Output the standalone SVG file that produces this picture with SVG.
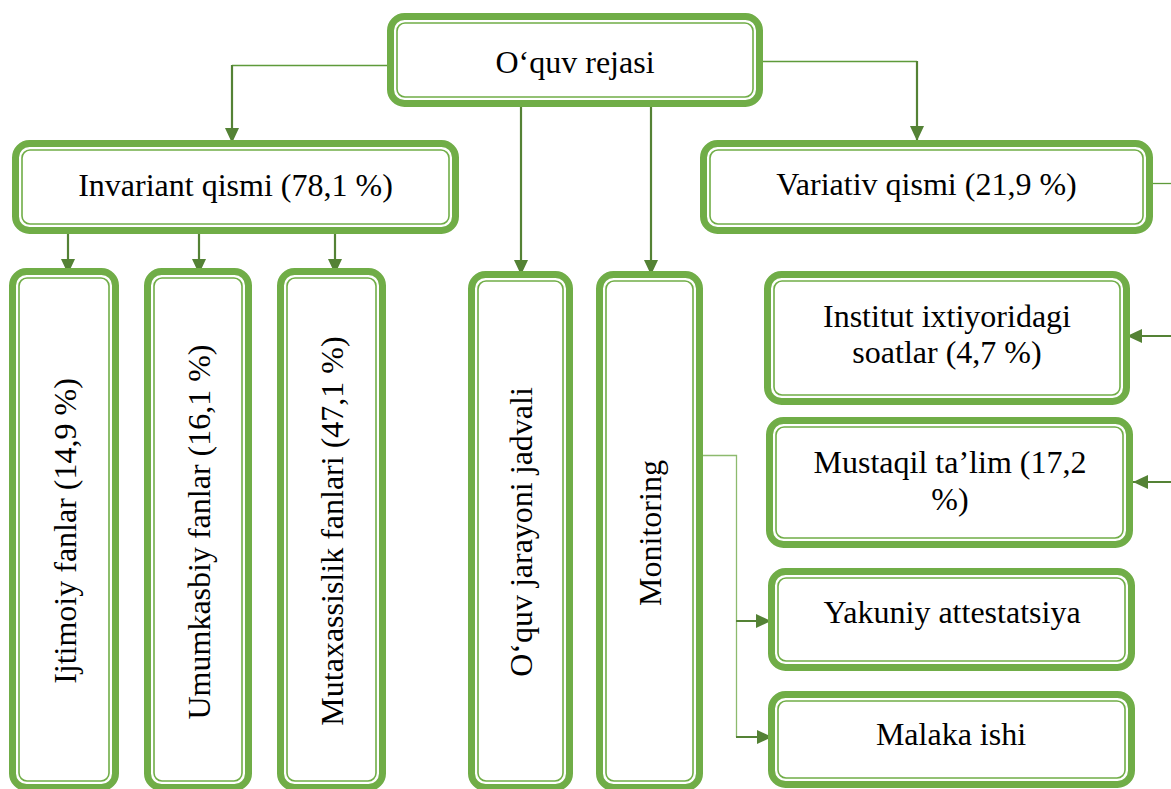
<svg xmlns="http://www.w3.org/2000/svg" width="1171" height="789" viewBox="0 0 1171 789">
<style>
.o{fill:#fff;stroke:#70AD47;stroke-width:7}
.i{fill:none;stroke:#70AD47;stroke-width:1.6}
.t{font-family:"Liberation Serif","Times New Roman",serif;font-size:32px;fill:#000;text-anchor:middle}
.a{fill:none;stroke:#548235;stroke-width:2.2}
.th{fill:none;stroke:#5E9A3A;stroke-width:1.3}
.lt{fill:none;stroke:#8DBA6E;stroke-width:1.3}
</style>
<defs>
<marker id="ah" viewBox="0 0 15 14" refX="15" refY="7" markerWidth="15" markerHeight="14" markerUnits="userSpaceOnUse" orient="auto">
<path d="M0,0 L15,7 L0,14 z" fill="#548235"/>
</marker>
</defs>
<rect width="1171" height="789" fill="#fff"/>
<g id="connectors">
<path class="th" d="M390,65.5 H232"/>
<path class="a" d="M232,65 V143" marker-end="url(#ah)"/>
<path class="th" d="M760,61.5 H917"/>
<path class="a" d="M917,61 V141" marker-end="url(#ah)"/>
<path class="a" d="M521,107 V275" marker-end="url(#ah)"/>
<path class="a" d="M651,107 V275" marker-end="url(#ah)"/>
<path class="a" d="M68,232 V274" marker-end="url(#ah)"/>
<path class="a" d="M199,232 V274" marker-end="url(#ah)"/>
<path class="a" d="M335,232 V274" marker-end="url(#ah)"/>
<path class="th" d="M1150,183.5 H1175"/>
<path class="a" d="M1175,336 H1127" marker-end="url(#ah)"/>
<path class="a" d="M1175,482 H1133" marker-end="url(#ah)"/>
<path class="lt" d="M701,455.5 H736.5 V737"/>
<path class="a" d="M736,621 H771" marker-end="url(#ah)"/>
<path class="a" d="M736,737 H772" marker-end="url(#ah)"/>
</g>
<g id="n-oquv-rejasi">
<rect class="o" x="390.5" y="16.5" width="369" height="87" rx="14"/>
<rect class="i" x="397" y="23" width="356" height="74" rx="8"/>
<text class="t" x="575" y="73">O‘quv rejasi</text>
</g>
<g id="n-invariant">
<rect class="o" x="15.5" y="143.5" width="440" height="87" rx="14"/>
<rect class="i" x="22" y="150" width="427" height="74" rx="8"/>
<text class="t" x="235.5" y="196">Invariant qismi (78,1 %)</text>
</g>
<g id="n-variativ">
<rect class="o" x="703.5" y="143.5" width="446" height="87" rx="14"/>
<rect class="i" x="710" y="150" width="433" height="74" rx="8"/>
<text class="t" x="926.5" y="195">Variativ qismi (21,9 %)</text>
</g>
<g id="n-ijtimoiy">
<rect class="o" x="12.5" y="271.5" width="103" height="516" rx="14"/>
<rect class="i" x="19" y="278" width="90" height="503" rx="8"/>
<text class="t" transform="translate(75.5,531) rotate(-90)">Ijtimoiy fanlar (14,9 %)</text>
</g>
<g id="n-umumkasbiy">
<rect class="o" x="147.5" y="271.5" width="101" height="516" rx="14"/>
<rect class="i" x="154" y="278" width="88" height="503" rx="8"/>
<text class="t" transform="translate(209.5,532) rotate(-90)">Umumkasbiy fanlar (16,1 %)</text>
</g>
<g id="n-mutaxassislik">
<rect class="o" x="280.5" y="271.5" width="102" height="516" rx="14"/>
<rect class="i" x="287" y="278" width="89" height="503" rx="8"/>
<text class="t" transform="translate(343,531) rotate(-90)">Mutaxassislik fanlari (47,1 %)</text>
</g>
<g id="n-jadval">
<rect class="o" x="471.5" y="274.5" width="98" height="513" rx="14"/>
<rect class="i" x="478" y="281" width="85" height="500" rx="8"/>
<text class="t" transform="translate(532,532) rotate(-90)">O‘quv jarayoni jadvali</text>
</g>
<g id="n-monitoring">
<rect class="o" x="599.5" y="274.5" width="100" height="513" rx="14"/>
<rect class="i" x="606" y="281" width="87" height="500" rx="8"/>
<text class="t" transform="translate(661,533) rotate(-90)">Monitoring</text>
</g>
<g id="n-institut">
<rect class="o" x="767.5" y="274.5" width="359" height="127" rx="14"/>
<rect class="i" x="774" y="281" width="346" height="114" rx="8"/>
<text class="t" x="947" y="327">Institut ixtiyoridagi</text>
<text class="t" x="947" y="363">soatlar (4,7 %)</text>
</g>
<g id="n-mustaqil">
<rect class="o" x="769.5" y="420.5" width="360" height="124" rx="14"/>
<rect class="i" x="776" y="427" width="347" height="111" rx="8"/>
<text class="t" x="950" y="473">Mustaqil ta’lim (17,2</text>
<text class="t" x="950" y="510">%)</text>
</g>
<g id="n-yakuniy">
<rect class="o" x="771.5" y="571.5" width="360" height="96" rx="14"/>
<rect class="i" x="778" y="578" width="347" height="83" rx="8"/>
<text class="t" x="952" y="623">Yakuniy attestatsiya</text>
</g>
<g id="n-malaka">
<rect class="o" x="771.5" y="694.5" width="360" height="90" rx="14"/>
<rect class="i" x="778" y="701" width="347" height="77" rx="8"/>
<text class="t" x="951" y="745">Malaka ishi</text>
</g>
</svg>
